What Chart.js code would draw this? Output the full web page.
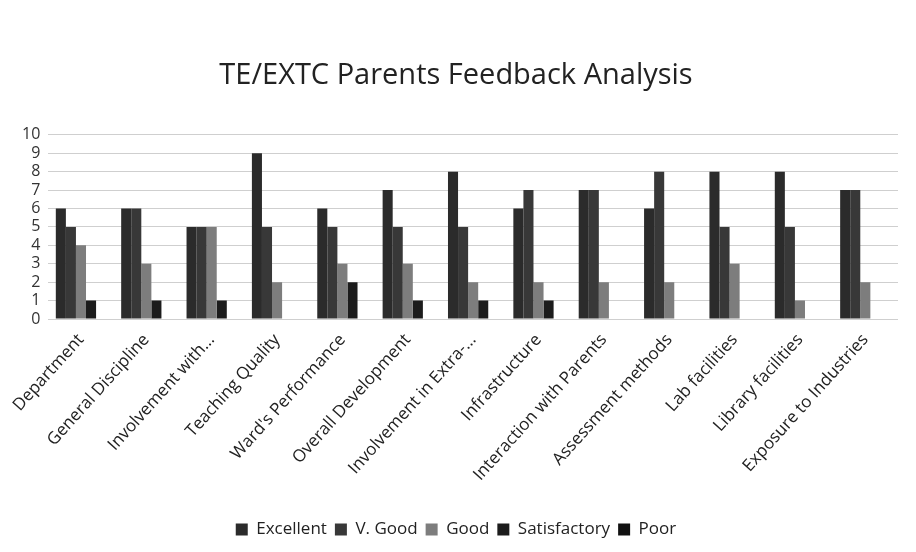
<!DOCTYPE html>
<html>
<head>
<meta charset="utf-8">
<script src="https://cdn.jsdelivr.net/npm/chart.js@4"></script>
<style>
  html, body { margin: 0; padding: 0; background: #ffffff; }
  #wrap { width: 916px; height: 552px; }
</style>
</head>
<body>
<div id="wrap"><canvas id="feedbackChart"></canvas></div>
<script>
const categories = [
  'Department', 'General Discipline', 'Involvement with...', 'Teaching Quality',
  "Ward's Performance", 'Overall Development', 'Involvement in Extra-...',
  'Infrastructure', 'Interaction with Parents', 'Assessment methods',
  'Lab facilities', 'Library facilities', 'Exposure to Industries'
]
const excellent    = [6, 6, 5, 9, 6, 7, 8, 6, 7, 6, 8, 8, 7]
const veryGood     = [5, 6, 5, 5, 5, 5, 5, 7, 7, 8, 5, 5, 7]
const good         = [4, 3, 5, 2, 3, 3, 2, 2, 2, 2, 3, 1, 2]
const satisfactory = [1, 1, 1, 0, 2, 1, 1, 1, 0, 0, 0, 0, 0]
const poor         = [0, 0, 0, 0, 0, 0, 0, 0, 0, 0, 0, 0, 0]

const font = "'Open Sans', 'Noto Sans', sans-serif"

const ctx = document.getElementById('feedbackChart')
new Chart(ctx, {
  type: 'bar',
  data: {
    labels: categories,
    datasets: [
      { label: 'Excellent', data: excellent, backgroundColor: '#2b2b2b' },
      { label: 'V. Good', data: veryGood, backgroundColor: '#383838' },
      { label: 'Good', data: good, backgroundColor: '#7d7d7d' },
      { label: 'Satisfactory', data: satisfactory, backgroundColor: '#1c1c1c' },
      { label: 'Poor', data: poor, backgroundColor: '#111111' }
    ]
  },
  options: {
    responsive: true,
    maintainAspectRatio: false,
    animation: false,
    layout: { padding: { top: 58, left: 14, right: 18, bottom: 4 } },
    datasets: { bar: { barPercentage: 1, categoryPercentage: 0.77 } },
    plugins: {
      title: {
        display: true,
        text: 'TE/EXTC Parents Feedback Analysis',
        color: '#222222',
        font: { family: font, size: 29, weight: 'normal' },
        padding: { bottom: 42 }
      },
      legend: {
        position: 'bottom',
        labels: {
          color: '#222222',
          boxWidth: 12,
          boxHeight: 12,
          padding: 8,
          font: { family: font, size: 17 }
        }
      },
      tooltip: { enabled: false }
    },
    scales: {
      y: {
        min: 0,
        max: 10,
        border: { display: false },
        grid: { color: '#cfcfcf', drawTicks: false },
        ticks: {
          stepSize: 1,
          autoSkip: false,
          color: '#333333',
          padding: 8,
          font: { family: font, size: 16, lineHeight: 1 }
        }
      },
      x: {
        grid: { display: false },
        border: { display: false },
        afterFit: (scale) => { scale.height = 194 },
        ticks: {
          color: '#222222',
          maxRotation: 48,
          minRotation: 48,
          autoSkip: false,
          font: { family: font, size: 17 }
        }
      }
    }
  }
})
</script>
</body>
</html>
